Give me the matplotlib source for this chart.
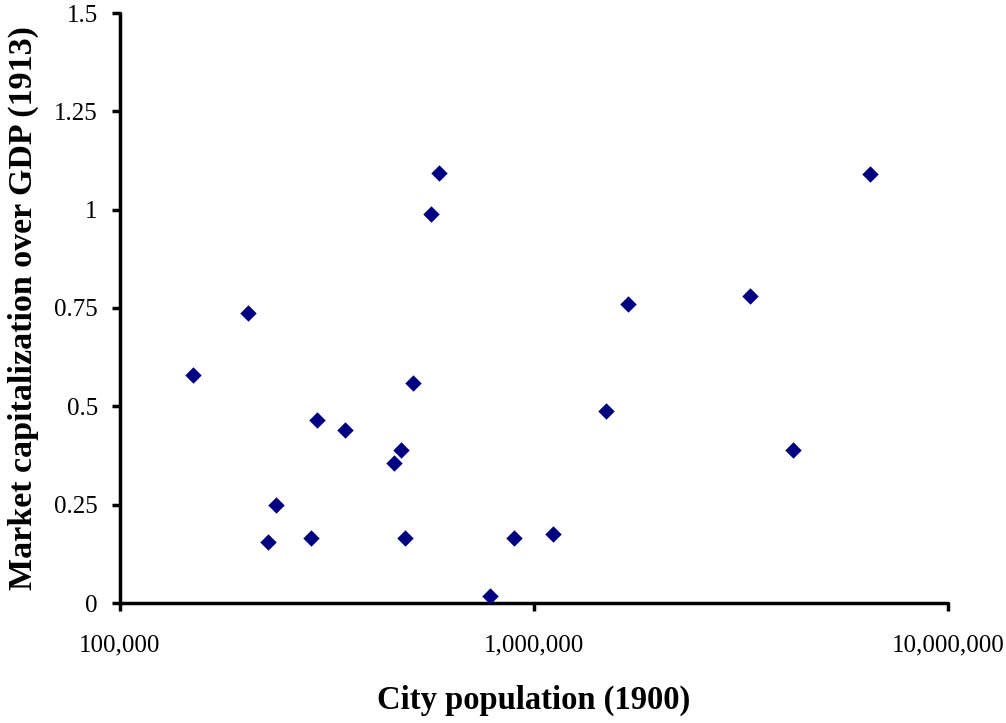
import numpy as np
import matplotlib
matplotlib.use("Agg")
import matplotlib.pyplot as plt
from matplotlib.ticker import FixedLocator, FuncFormatter, NullLocator

# city population in 1900 vs market cap / GDP in 1913
population = [150100, 203700, 227800, 238100, 289300, 299100, 349600,
              459000, 477200, 488000, 510200, 563900, 589500, 783000,
              894800, 1111000, 1492000, 1687000, 3325000, 4223000, 6480000]
mcap_gdp = [0.58, 0.737, 0.155, 0.249, 0.165, 0.465, 0.44,
            0.356, 0.389, 0.165, 0.559, 0.989, 1.093, 0.018,
            0.165, 0.175, 0.488, 0.760, 0.781, 0.389, 1.091]

x_ticks = [1e5, 1e6, 1e7]
y_ticks = [0, 0.25, 0.5, 0.75, 1, 1.25, 1.5]
y_labels = ["0", "0.25", "0.5", "0.75", "1", "1.25", "1.5"]

plt.rcParams['font.family'] = ['Liberation Serif', 'DejaVu Serif']

fig = plt.figure(figsize=(10.06, 7.23), dpi=100)
ax = fig.add_axes([120/1006, 120/723, 828/1006, 590/723])

ax.scatter(population, mcap_gdp, marker='D', s=70, color='#000080', zorder=3,
           linewidths=0)

ax.set_xscale('log')
ax.set_xlim(1e5, 1e7)
ax.set_ylim(0, 1.5)
ax.xaxis.set_major_locator(FixedLocator(x_ticks))
ax.xaxis.set_minor_locator(NullLocator())
ax.xaxis.set_major_formatter(FuncFormatter(lambda v, p: "{:,.0f}".format(v)))
ax.set_yticks(y_ticks)
ax.set_yticklabels(y_labels)

for s in ['top', 'right']:
    ax.spines[s].set_visible(False)
for s in ['left', 'bottom']:
    ax.spines[s].set_linewidth(2.5)
    ax.spines[s].set_capstyle('round')

ax.tick_params(axis='both', direction='out', length=6, width=2.5, labelsize=18)
ax.tick_params(axis='x', pad=17)
ax.tick_params(axis='y', pad=10)

ax.set_xlabel('City population (1900)', fontsize=23.5, fontweight='bold', labelpad=20)
ax.set_ylabel('Market capitalization over GDP (1913)', fontsize=24.5, fontweight='bold',
              labelpad=11)

fig.savefig('out.png', dpi=100)
